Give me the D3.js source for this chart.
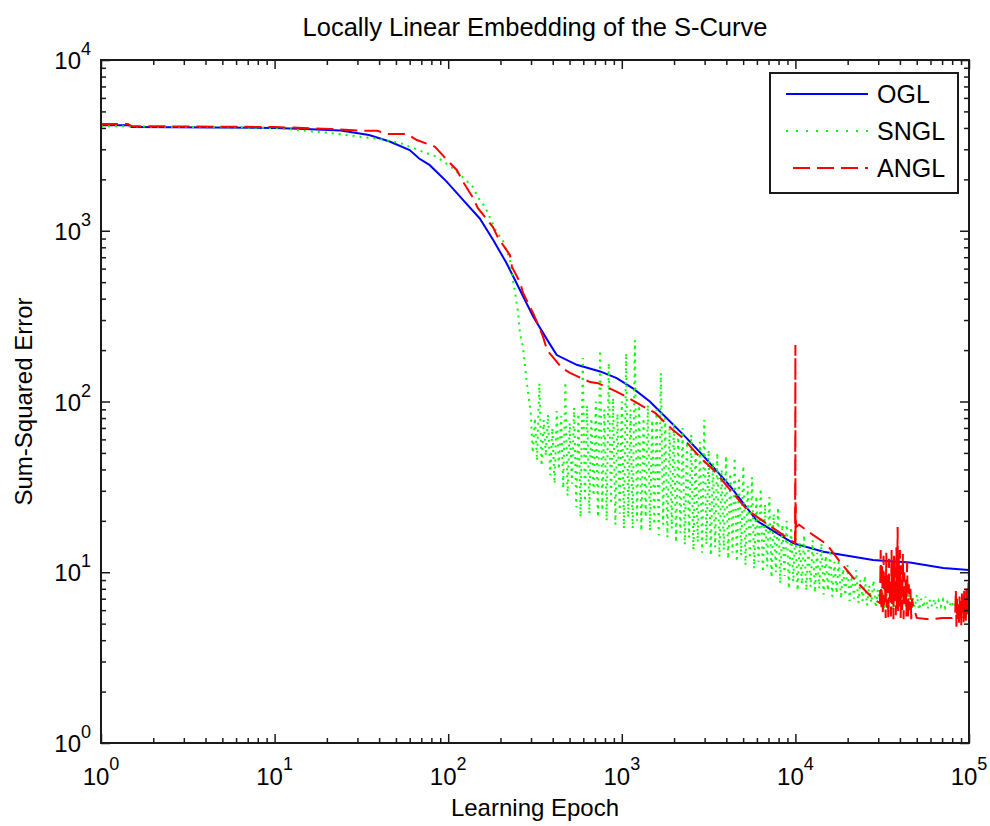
<!DOCTYPE html>
<html>
<head>
<meta charset="utf-8">
<script src="https://cdn.jsdelivr.net/npm/d3@7"></script>
<style>
  body { margin: 0; background: #ffffff; }
  svg text { font-family: "Liberation Sans", Arial, sans-serif; fill: #000000; }
</style>
</head>
<body>
<svg id="chart"></svg>
<script>
const xTicks = [1, 10, 100, 1000, 10000, 100000];
const yTicks = [1, 10, 100, 1000, 10000];
const xTickExp = ["0", "1", "2", "3", "4", "5"];
const yTickExp = ["0", "1", "2", "3", "4"];
const seriesNames = ["OGL", "SNGL", "ANGL"];

const oglEpoch = [1, 1.43, 1.5, 10, 15, 24, 35, 46, 60, 68, 78, 98, 122, 152, 182, 217, 259, 309, 386, 422, 550, 750, 935, 1165, 1450, 1810, 2260, 2950, 4200, 6000, 9700, 14500, 28000, 45700, 71000, 100000];
const oglError = [4150, 4150, 4050, 4000, 3950, 3860, 3640, 3330, 2970, 2650, 2430, 1940, 1510, 1180, 880, 645, 450, 314, 216, 187, 164, 150, 137, 119, 100, 80, 64, 48, 32, 20, 14.8, 13.2, 11.8, 11.4, 10.6, 10.3];

const snglEpoch = [1, 10, 20.9, 31, 40.3, 52.7, 68.7, 85.7, 106, 121, 139, 148, 163, 190, 206, 227, 236, 243, 253, 259, 270, 284,
  299, 307, 316, 325, 335, 345, 355, 365, 376, 387, 398, 410, 422, 434, 447, 460, 473, 487, 501, 516, 531, 547, 562, 579, 596, 613, 631, 650, 668, 688, 708, 729, 750, 772, 794, 818, 841, 866, 891, 918, 944, 972,
  1000, 1029, 1059, 1090, 1122, 1155, 1189, 1223, 1259, 1296, 1334, 1373, 1413, 1454, 1496, 1540, 1585, 1632, 1679, 1729, 1778, 1831, 1884, 1940, 1995, 2054, 2113, 2176, 2239, 2305, 2371, 2442, 2512, 2586, 2661, 2739, 2818, 2902, 2985, 3073,
  3162, 3256, 3350, 3449, 3548, 3652, 3758, 3869, 3981, 4098, 4217, 4341, 4467, 4597, 4732, 4870, 5012, 5158, 5309, 5464, 5623, 5788, 5957, 6131, 6310, 6494, 6683, 6879, 7079, 7286, 7499, 7718, 7943, 8175, 8414, 8660, 8913, 9173, 9441, 9716,
  10000, 10292, 10593, 10902, 11220, 11548, 11885, 12232, 12589, 12957, 13335, 13725, 14125, 14538, 14962, 15399, 15849, 16312, 16788, 17278, 17783, 18302, 18836, 19387, 19953, 20535, 21135, 21752, 22387, 23041, 23714, 24406, 25119, 25852, 26607, 27384, 28184, 29007, 29854, 30726,
  31623, 32546, 33497, 34475, 35481, 36517, 37584, 38681, 39811, 40973, 42170, 43401, 44668, 45973, 47315, 48697, 50119, 51582, 53088, 54639, 56234, 57876, 59566, 61306, 63096, 64938, 66834, 68786, 70795, 72862, 74989, 77179, 79433, 81752, 84140, 86596, 89125, 91728, 94406, 97163, 100000];
const snglError = [4100, 4000, 3735, 3555, 3445, 3266, 2943, 2715, 2330, 2064, 1803, 1577, 1377, 984, 883, 674, 515, 432, 330, 252, 206, 128,
  85, 50, 80, 45, 128, 42, 78, 48, 84, 37, 70, 33, 88, 40, 82, 31, 130, 28, 75, 33, 92, 24, 85, 21, 180, 26, 95, 22, 80, 28, 100, 21, 200, 23, 90, 20, 168, 25, 105, 19, 85, 22,
  100, 18, 192, 21, 90, 18, 228, 20, 95, 17.5, 80, 21, 96, 17.5, 78, 19, 90, 16.5, 147, 19, 80, 16, 70, 18, 75, 15, 62, 17, 70, 14.5, 58, 16, 64, 13.5, 52, 15, 58, 13, 78, 14.5,
  52, 12.5, 44, 14, 50, 12.3, 40, 13.5, 48, 12, 38, 13, 47, 11.5, 36, 12.5, 42, 11, 32, 12, 36, 10.5, 28, 11.5, 31, 10, 25, 10.8, 27.6, 9.3, 22, 10, 24, 8.6, 19, 9.5, 20, 8.0, 18.4, 8.8,
  17.7, 7.8, 15, 8.5, 16.5, 7.8, 14, 8.2, 15.4, 7.6, 13, 8.0, 14.8, 7.4, 12.5, 7.8, 13.5, 7.2, 11.5, 7.5, 12, 7.0, 10.5, 7.3, 11, 6.8, 9.6, 7.0, 10.3, 6.6, 9.0, 6.8, 9.5, 6.4, 8.4, 6.6, 9.0, 6.2, 7.9, 6.4,
  8.2, 6.0, 7.5, 6.2, 7.9, 6.0, 7.4, 6.2, 7.8, 6.0, 7.2, 6.2, 7.6, 6.0, 7.1, 6.2, 7.4, 6.0, 7.0, 6.2, 7.2, 6.1, 6.9, 6.3, 7.0, 6.1, 6.8, 6.3, 6.9, 6.2, 6.7, 6.3, 6.8, 6.2, 6.6, 6.3, 6.7, 6.3, 6.6, 6.3, 6.4];

const anglEpoch = [1, 1.43, 1.5, 10, 21, 31, 39, 45, 58, 66, 84, 96, 112, 122, 139, 148, 181, 194, 227, 233, 259, 270, 308, 325, 352, 371,
  452, 503, 656, 729, 938, 1071, 1361, 1553, 1972, 2252, 2826, 3352, 5265, 8150, 9950, 10000, 10010, 10050, 10100, 10500,
  12140, 15150, 18070, 22540, 28000,
  30700, 31000, 31300, 31600, 31900, 32200, 32500, 32800, 33100, 33400, 33700, 34000, 34300, 34600, 34900, 35200, 35500, 35800, 36100, 36400, 36700, 37000, 37300, 37600, 37900,
  38200, 38500, 38800, 39100, 39400, 39700, 40000, 40400, 40800, 41200, 41600, 42000, 42400, 42800, 43200, 43600, 44000, 44500, 45000, 45500, 46000, 46500, 47000, 47500,
  50000, 60000, 70000, 80000,
  83200, 84000, 84700, 85400, 86100, 86800, 87500, 88200, 88900, 89600, 90300, 91000, 91700, 92400, 93100, 93800, 94500, 95200, 95900, 96600, 97300, 98000, 98700, 99400, 100000];
const anglError = [4220, 4220, 4100, 4050, 3950, 3860, 3850, 3690, 3680, 3400, 3100, 2670, 2270, 1930, 1560, 1360, 1050, 907, 720, 614, 500, 432, 330, 292, 239, 200,
  157, 147, 130, 128, 114, 106, 92, 86, 68, 61, 47, 40, 23.2, 17, 14.8, 214, 14.8, 25, 18.4, 19,
  17, 14.6, 11.5, 8.8, 7.0,
  6.6, 13.5, 6.0, 11.0, 5.6, 12.5, 6.4, 9.5, 5.4, 13.0, 6.2, 10.0, 5.3, 12.0, 7.0, 9.0, 5.5, 13.5, 6.5, 11.5, 5.3, 12.5, 6.8, 10.5, 5.6,
  14.0, 6.0, 18.4, 5.8, 12.0, 6.3, 13.5, 5.4, 11.0, 6.0, 12.8, 5.3, 10.0, 6.5, 9.0, 5.5, 11.5, 5.3, 8.5, 6.0, 8.0, 5.3, 7.0, 6.5,
  5.4, 5.3, 5.4, 5.4,
  5.5, 7.9, 4.8, 7.0, 5.3, 6.5, 5.0, 7.2, 5.4, 6.8, 4.9, 7.5, 5.6, 6.6, 5.1, 7.8, 5.4, 6.9, 5.2, 8.0, 5.5, 7.4, 5.8, 9.0, 10.3];

const width = 990;
const height = 826;
const plotL = 101, plotR = 969, plotT = 60, plotB = 743;

const svg = d3.select("#chart").attr("width", width).attr("height", height);

const x = d3.scaleLog().domain([1, 100000]).range([plotL, plotR]);
const y = d3.scaleLog().domain([1, 10000]).range([plotB, plotT]);

function minors(domain) {
  const out = [];
  for (let p = domain[0]; p < domain[1]; p *= 10) {
    for (let k = 2; k <= 9; k++) out.push(p * k);
  }
  return out;
}
const xMinor = minors(x.domain());
const yMinor = minors(y.domain());

svg.append("defs").append("clipPath").attr("id", "plot-clip")
  .append("rect").attr("x", plotL).attr("y", plotT - 2)
  .attr("width", plotR - plotL).attr("height", plotB - plotT + 4);

const series = [
  { name: seriesNames[0], pts: d3.zip(oglEpoch, oglError), color: "#0000ff", dash: null },
  { name: seriesNames[1], pts: d3.zip(snglEpoch, snglError), color: "#00ff00", dash: "2,5" },
  { name: seriesNames[2], pts: d3.zip(anglEpoch, anglError), color: "#ff0000", dash: "17,7" },
];

const line = d3.line().x((d) => x(d[0])).y((d) => y(d[1]));

svg.append("g").attr("clip-path", "url(#plot-clip)")
  .selectAll("path")
  .data(series)
  .enter()
  .append("path")
  .attr("d", (d) => line(d.pts))
  .attr("fill", "none")
  .attr("stroke", (d) => d.color)
  .attr("stroke-width", 2)
  .attr("stroke-dasharray", (d) => d.dash);

function tickAxis(axis, scale, values, size, transform) {
  svg.append("g")
    .attr("transform", transform)
    .call(axis(scale).tickValues(values).tickSizeInner(-size).tickSizeOuter(0).tickFormat(""))
    .call((g) => g.select(".domain").remove())
    .call((g) => g.selectAll("line").attr("stroke", "#1a1a1a").attr("stroke-width", 1.5));
}
tickAxis(d3.axisBottom, x, xTicks, 9, `translate(0,${plotB})`);
tickAxis(d3.axisBottom, x, xMinor, 5, `translate(0,${plotB})`);
tickAxis(d3.axisTop, x, xTicks, 9, `translate(0,${plotT})`);
tickAxis(d3.axisTop, x, xMinor, 5, `translate(0,${plotT})`);
tickAxis(d3.axisLeft, y, yTicks, 9, `translate(${plotL},0)`);
tickAxis(d3.axisLeft, y, yMinor, 5, `translate(${plotL},0)`);
tickAxis(d3.axisRight, y, yTicks, 9, `translate(${plotR},0)`);
tickAxis(d3.axisRight, y, yMinor, 5, `translate(${plotR},0)`);

svg.append("rect")
  .attr("x", plotL).attr("y", plotT)
  .attr("width", plotR - plotL).attr("height", plotB - plotT)
  .attr("fill", "none").attr("stroke", "#1a1a1a").attr("stroke-width", 2);

const xLab = svg.append("g").selectAll("text")
  .data(xTicks)
  .enter()
  .append("text")
  .attr("x", (d) => x(d))
  .attr("y", 785)
  .attr("text-anchor", "middle")
  .style("font-size", "24px");
xLab.append("tspan").text("10");
xLab.append("tspan").attr("dy", -15).style("font-size", "18px").text((d, i) => xTickExp[i]);

const yLab = svg.append("g").selectAll("text")
  .data(yTicks)
  .enter()
  .append("text")
  .attr("x", 91)
  .attr("y", (d) => y(d) + 9)
  .attr("text-anchor", "end")
  .style("font-size", "24px");
yLab.append("tspan").text("10");
yLab.append("tspan").attr("dy", -14).style("font-size", "18px").text((d, i) => yTickExp[i]);

svg.append("text")
  .attr("x", (plotL + plotR) / 2).attr("y", 36)
  .attr("text-anchor", "middle")
  .style("font-size", "25.5px")
  .text("Locally Linear Embedding of the S-Curve");

svg.append("text")
  .attr("x", (plotL + plotR) / 2).attr("y", 816)
  .attr("text-anchor", "middle")
  .style("font-size", "24px")
  .text("Learning Epoch");

svg.append("text")
  .attr("transform", `translate(32,${(plotT + plotB) / 2}) rotate(-90)`)
  .attr("text-anchor", "middle")
  .style("font-size", "24px")
  .text("Sum-Squared Error");

const legend = svg.append("g");
legend.append("rect")
  .attr("x", 770).attr("y", 73).attr("width", 188).attr("height", 120)
  .attr("fill", "#ffffff").attr("stroke", "#1a1a1a").attr("stroke-width", 2);

const item = legend.selectAll(".item")
  .data(series)
  .enter()
  .append("g")
  .attr("class", "item")
  .attr("transform", (d, i) => `translate(0,${94 + i * 37})`);
item.append("line")
  .attr("x1", 786).attr("x2", 868)
  .attr("stroke", (d) => d.color)
  .attr("stroke-width", 2)
  .attr("stroke-dasharray", (d, i) => (i === 1 ? "2,8" : d.dash))
  .attr("stroke-dashoffset", (d, i) => (i === 2 ? -7 : 0));
item.append("text")
  .attr("x", 877).attr("y", 9)
  .style("font-size", "25px")
  .text((d) => d.name);
</script>
</body>
</html>
